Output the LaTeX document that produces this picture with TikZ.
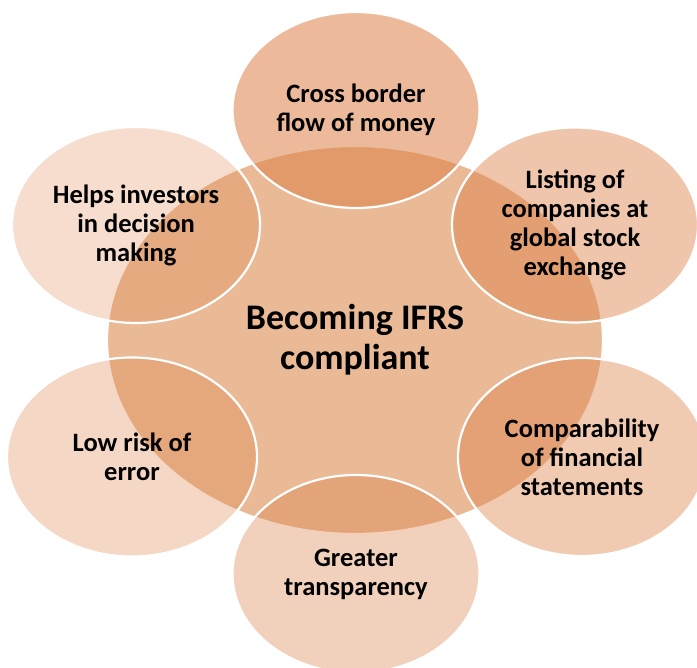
\documentclass[tikz,border=0pt]{standalone}
\usepackage{fontspec}
\setmainfont{Carlito}
\usetikzlibrary{shapes.geometric}
\definecolor{hubfill}{RGB}{234,185,150}
\definecolor{satbase}{RGB}{220,130,72}
\tikzset{
  hub/.style={ellipse, draw=white, line width=2.2pt, fill=hubfill, inner sep=0pt,
    align=center, font=\fontsize{36}{40}\selectfont\bfseries},
  sat/.style={ellipse, draw=white, line width=2.2pt, fill=satbase, fill opacity=#1,
    text opacity=1, inner sep=0pt, align=center,
    font=\fontsize{26.5}{29}\selectfont\bfseries},
}
\begin{document}
\begin{tikzpicture}[x=1pt,y=-1pt]
\useasboundingbox (0,0) rectangle (697,668);
\node[hub, minimum width=496pt, minimum height=388pt] (hubn) at (355,340) {Becoming IFRS\\compliant};
\node[sat=0.55, minimum width=247pt, minimum height=196pt] (top) at (356,110) {Cross border\\flow of money};
\node[sat=0.46, minimum width=246pt, minimum height=195pt] (ur) at (575,225) {Listing of\\companies at\\global stock\\exchange};
\node[sat=0.42, minimum width=248pt, minimum height=198pt] (lr) at (582,457) {Comparability\\of financial\\statements};
\node[sat=0.37, minimum width=247pt, minimum height=198pt] (bot) at (356,574) {Greater\\transparency};
\node[sat=0.32, minimum width=250pt, minimum height=199pt] (ll) at (132,457) {Low risk of\\error};
\node[sat=0.27, minimum width=248pt, minimum height=196pt] (ul) at (136,225) {Helps investors\\in decision\\making};
\end{tikzpicture}
\end{document}
